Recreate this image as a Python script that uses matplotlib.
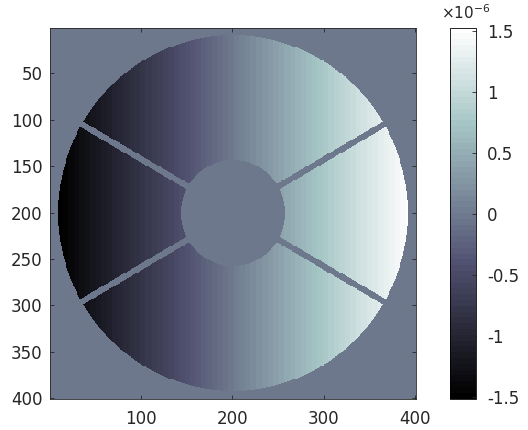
import numpy as np
import matplotlib
matplotlib.use("Agg")
import matplotlib.pyplot as plt

# pupil geometry (pixels) and tilt amplitude
n_pix = 400
center = 200.5
pupil_radius = 191
obstruction_radius = 57
spider_angles_deg = [30, -30]
spider_width = 6.5
tilt_edge_value = 1.5e-6

clim = (-1.51e-6, 1.53e-6)
xticks = [100, 200, 300, 400]
yticks = [50, 100, 150, 200, 250, 300, 350, 400]
cbar_ticks = [-1.5e-6, -1e-6, -0.5e-6, 0, 0.5e-6, 1e-6, 1.5e-6]
cbar_labels = ["-1.5", "-1", "-0.5", "0", "0.5", "1", "1.5"]

# build the phase map
x = np.arange(1, n_pix + 1)
X, Y = np.meshgrid(x, x)
dx = X - center
dy = Y - center
r = np.hypot(dx, dy)
mask = (r <= pupil_radius) & (r >= obstruction_radius)
for a in np.deg2rad(spider_angles_deg):
    dist = np.abs(-np.sin(a) * dx + np.cos(a) * dy)
    mask &= dist > spider_width / 2
phase = np.where(mask, tilt_edge_value * dx / pupil_radius, 0.0)

plt.rcParams["font.family"] = "DejaVu Sans"
fig = plt.figure(figsize=(5.28, 4.30), dpi=100)
ax = fig.add_axes([0.094, 0.073, 0.693, 0.863])
cmap = plt.get_cmap("bone", 64)
im = ax.imshow(phase, cmap=cmap, vmin=clim[0], vmax=clim[1],
               extent=[0.5, n_pix + 0.5, n_pix + 0.5, 0.5],
               aspect="auto", interpolation="nearest")
ax.set_xticks(xticks)
ax.set_yticks(yticks)
ax.tick_params(direction="in", length=3, width=0.6, labelsize=12,
               top=True, right=True, colors="#262626", labelcolor="#262626")
ax.tick_params(axis="x", pad=8)
ax.tick_params(axis="y", pad=5)
for s in ax.spines.values():
    s.set_linewidth(0.6)
    s.set_color("#262626")

cax = fig.add_axes([0.852, 0.073, 0.049, 0.863])
cb = fig.colorbar(im, cax=cax)
cb.set_ticks(cbar_ticks)
cb.set_ticklabels(cbar_labels)
cax.tick_params(direction="in", length=3, width=0.6, labelsize=12, pad=8,
                colors="#262626", labelcolor="#262626")
cb.outline.set_linewidth(0.6)
fig.text(0.835, 0.955, r"$\times$10$^{-6}$", fontsize=11, color="#262626")

fig.savefig("out.png", dpi=100)
